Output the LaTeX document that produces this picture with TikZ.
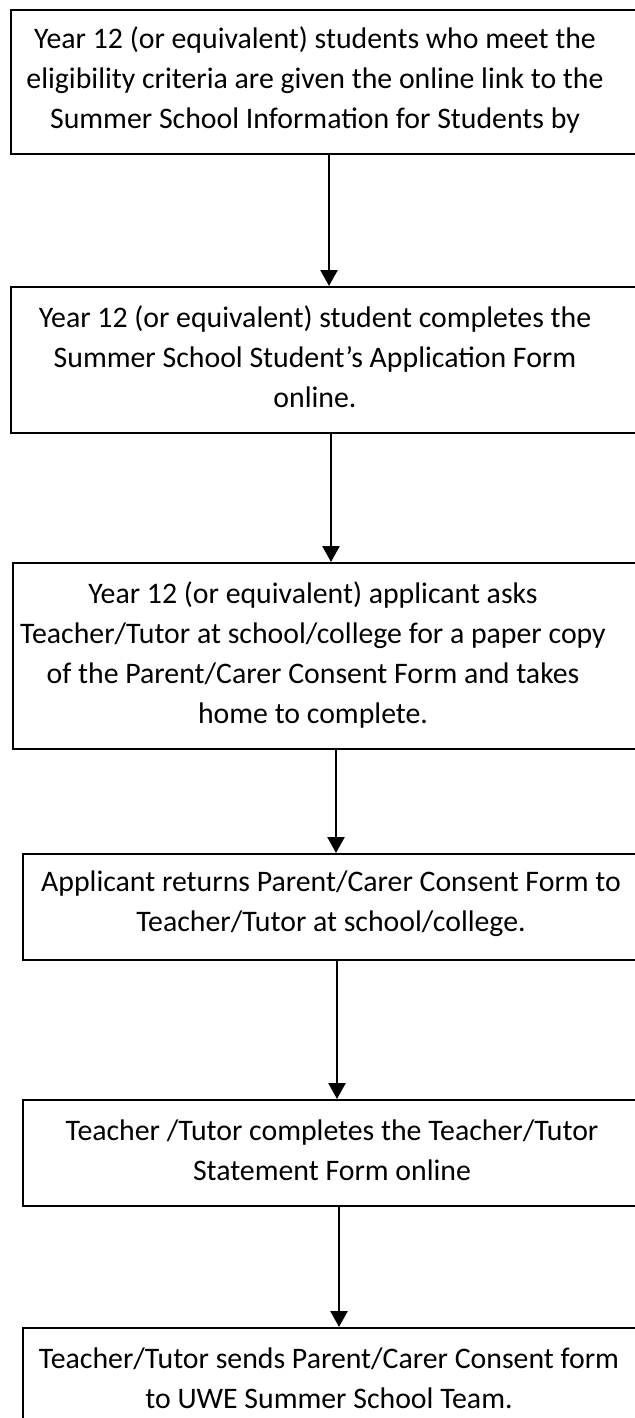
\documentclass[tikz,border=0pt]{standalone}
\usepackage{fontspec}
\setmainfont{Carlito}
\usetikzlibrary{positioning}
\usetikzlibrary{arrows.meta}

\tikzset{
  stepbox/.style={draw, line width=1pt, inner sep=0pt, anchor=north west},
  steptext/.style={align=center, inner sep=0pt, font=\fontsize{14.9}{20}\selectfont},
  flowarrow/.style={line width=1.3pt, -{Triangle[width=8.5pt,length=8pt]}}
}

\begin{document}
\begin{tikzpicture}[x=0.5pt, y=-0.5pt]
\useasboundingbox (0,0) rectangle (635,1418);
\clip (0,0) rectangle (635,1418);

% boxes
\node[stepbox, minimum width=320pt, minimum height=72pt] (b1) at (10,9) {};
\node[stepbox, minimum width=320pt, minimum height=73pt] (b2) at (10,286) {};
\node[stepbox, minimum width=319pt, minimum height=93pt] (b3) at (12,562) {};
\node[stepbox, minimum width=314pt, minimum height=53pt] (b4) at (22,853) {};
\node[stepbox, minimum width=314pt, minimum height=53pt] (b5) at (22,1099) {};
\node[stepbox, minimum width=314pt, minimum height=53pt] (b6) at (22,1327) {};

% texts
\node[steptext] (t1) at (315,80) {Year 12 (or equivalent) students who meet the\\
eligibility criteria are given the online link to the\\
Summer School Information for Students by};
\node[steptext] (t2) at (315,357) {Year 12 (or equivalent) student completes the\\
Summer School Student’s Application Form\\
online.};
\node[steptext] (t3) at (313,655) {Year 12 (or equivalent) applicant asks\\
Teacher/Tutor at school/college for a paper copy\\
of the Parent/Carer Consent Form and takes\\
home to complete.};
\node[steptext] (t4) at (331,904) {Applicant returns Parent/Carer Consent Form to\\
Teacher/Tutor at school/college.};
\node[steptext] (t5) at (332,1150) {Teacher /Tutor completes the Teacher/Tutor\\
Statement Form online};
\node[steptext] (t6) at (329,1378) {Teacher/Tutor sends Parent/Carer Consent form\\
to UWE Summer School Team.};

% arrows
\draw[flowarrow] ([xshift=-1pt]b1.south) -- ([xshift=-1pt]b1.south |- b2.north);
\draw[flowarrow] (b2.south) -- (b2.south |- b3.north);
\draw[flowarrow] ([xshift=2pt]b3.south) -- ([xshift=2pt]b3.south |- b4.north);
\draw[flowarrow] (b4.south) -- (b4.south |- b5.north);
\draw[flowarrow] ([xshift=1pt]b5.south) -- ([xshift=1pt]b5.south |- b6.north);

\end{tikzpicture}
\end{document}
